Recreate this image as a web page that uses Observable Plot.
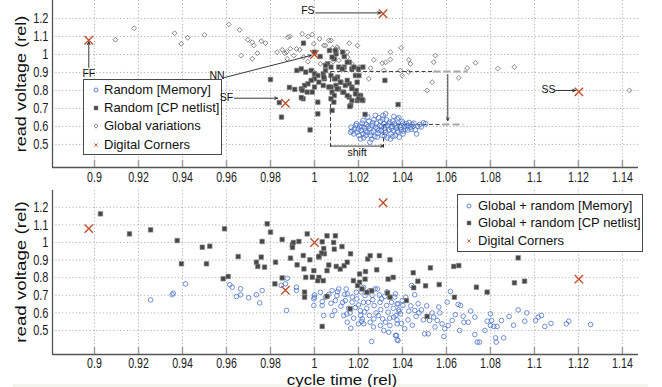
<!DOCTYPE html>
<html><head><meta charset="utf-8">
<script src="https://cdn.jsdelivr.net/npm/d3@7"></script>
<script src="https://cdn.jsdelivr.net/npm/@observablehq/plot@0.6"></script>
<style>
html,body{margin:0;padding:0;background:#fff;}
#wrap{position:relative;width:662px;height:387px;overflow:hidden;font-family:"Liberation Sans",Arial,sans-serif;color:#111;}
#wrap svg{position:absolute;left:0;}
.legend{position:absolute;background:#fff;border:1px solid #4a4a4a;box-sizing:border-box;font-size:13px;z-index:5;}
.legend .mk{position:absolute;width:10px;height:10px;}
.legend .tx{position:absolute;height:18px;line-height:18px;white-space:nowrap;}
.title{position:absolute;white-space:nowrap;font-size:14.5px;line-height:14px;transform-origin:50% 50%;z-index:6;}
#band{position:absolute;left:13px;top:384px;width:635px;height:3px;background:#f3f4ec;}
</style>
</head><body>
<div id="wrap"><div id="band"></div></div>
<script>
// ---------- data ----------
const xTicks = [0.9,0.92,0.94,0.96,0.98,1,1.02,1.04,1.06,1.08,1.1,1.12,1.14];
const yTicks = [0.5,0.6,0.7,0.8,0.9,1,1.1,1.2];

const corners = [ // Digital corners: FF, FS, NN, SF, SS
  [0.8974,1.079],[1.0312,1.226],[1.0,1.0],[0.9868,0.729],[1.1202,0.792]
];

const topMemory = [[1.0167,0.596],[1.0171,0.574],[1.0179,0.559],[1.0182,0.587],[1.0191,0.615],[1.0194,0.568],[1.0202,0.550],[1.0206,0.600],[1.0212,0.578],[1.0217,0.618],[1.0221,0.559],[1.0224,0.537],[1.0229,0.592],[1.0236,0.611],[1.0239,0.568],[1.0247,0.629],[1.0252,0.587],[1.0255,0.550],[1.0252,0.513],[1.0262,0.605],[1.0267,0.574],[1.0270,0.637],[1.0274,0.544],[1.0282,0.618],[1.0285,0.587],[1.0289,0.563],[1.0292,0.648],[1.0297,0.605],[1.0300,0.629],[1.0303,0.578],[1.0308,0.550],[1.0312,0.661],[1.0315,0.615],[1.0318,0.592],[1.0323,0.568],[1.0327,0.637],[1.0330,0.537],[1.0333,0.605],[1.0338,0.581],[1.0342,0.624],[1.0348,0.559],[1.0353,0.600],[1.0358,0.578],[1.0364,0.615],[1.0368,0.550],[1.0373,0.592],[1.0376,0.642],[1.0380,0.568],[1.0385,0.541],[1.0388,0.605],[1.0394,0.581],[1.0398,0.629],[1.0403,0.559],[1.0409,0.600],[1.0418,0.615],[1.0424,0.581],[1.0430,0.622],[1.0436,0.596],[1.0444,0.611],[1.0452,0.618],[1.0459,0.581],[1.0464,0.559],[1.0470,0.600],[1.0479,0.611],[1.0505,0.615],[1.0164,0.568],[1.0242,0.652],[1.0277,0.661],[1.0323,0.670],[1.0361,0.655],[1.0383,0.648],[1.0221,0.633],[1.0285,0.541],[1.0345,0.531],[1.0209,0.531],[1.0188,0.605],[1.0199,0.585],[1.0215,0.598],[1.0232,0.575],[1.0244,0.600],[1.0258,0.566],[1.0265,0.620],[1.0278,0.596],[1.0292,0.578],[1.0306,0.600],[1.0310,0.640],[1.0321,0.580],[1.0336,0.615],[1.0350,0.590],[1.0356,0.630],[1.0371,0.605],[1.0377,0.575],[1.0392,0.595],[1.0401,0.618],[1.0412,0.585],[1.0421,0.605],[1.0440,0.585],[1.0448,0.600],[1.0485,0.598],[1.0495,0.620],[1.0260,0.530],[1.0318,0.548],[1.0356,0.545],[1.0404,0.575],[1.0233,0.551]];

const topNetlist = [[0.995,1.063],[1.0,1.013],[1.0026,0.989],[1.0068,1.022],[1.0098,1.004],[1.0128,1.013],[1.0135,0.989],[1.0158,0.957],[1.009,0.976],[1.006,0.948],[1.0075,0.93],[1.011,0.93],[1.0135,0.93],[1.017,0.92],[1.020,0.92],[1.022,0.93],[0.992,0.911],[0.994,0.92],[0.996,0.902],[0.9985,0.911],[1.0,0.893],[1.0015,0.883],[1.004,0.893],[1.005,0.911],[1.0,0.865],[0.9985,0.856],[0.997,0.837],[0.9955,0.828],[0.994,0.809],[0.9967,0.791],[0.999,0.791],[1.0,0.819],[1.002,0.846],[1.004,0.828],[1.0045,0.865],[1.0075,0.883],[1.009,0.865],[1.0105,0.874],[1.012,0.846],[1.0098,0.828],[1.0075,0.819],[1.008,0.791],[1.009,0.772],[1.011,0.809],[1.0128,0.791],[1.014,0.828],[1.0158,0.837],[1.017,0.819],[1.019,0.80],[1.0158,0.763],[1.017,0.744],[1.021,0.772],[1.022,0.744],[1.0195,0.744],[0.9948,0.754],[1.0015,0.735],[1.0075,0.754],[1.0165,0.717],[0.985,0.652],[1.0015,0.67],[0.998,0.581],[0.980,0.861],[0.9886,0.817],[0.991,0.806],[0.984,0.733],[0.994,0.761],[0.9945,0.80],[1.0095,1.022],[1.0149,0.957],[1.013,0.922],[1.0186,0.883],[1.032,0.856],[1.017,0.81],[1.016,0.711],[1.038,0.722],[1.023,0.667],[1.008,0.689],[1.02,0.772],[1.008,0.985],[1.005,0.939],[1.0126,0.92],[1.0179,0.93],[1.0202,0.883],[1.0042,0.874],[1.0095,0.865],[1.0118,0.846],[1.0149,0.856],[1.0194,0.846],[1.0065,0.819],[1.0103,0.809],[1.0133,0.79],[1.0149,0.772],[1.0186,0.781],[1.0202,0.754],[1.0217,0.748],[1.0088,0.735]];

const topGlobal = [[0.9095,1.082],[0.918,1.146],[0.9364,1.118],[0.9394,1.059],[0.9424,1.093],[0.95,1.109],[0.961,1.167],[0.966,1.137],[0.9667,0.994],[0.9697,1.082],[0.9717,1.068],[0.9724,1.05],[0.974,1.007],[0.9717,0.976],[0.9758,1.074],[0.9777,1.063],[0.983,1.013],[0.9853,1.026],[0.9873,1.013],[0.9879,1.096],[0.989,1.032],[0.9876,0.976],[0.9906,0.994],[0.9933,1.026],[0.9944,1.115],[0.999,1.111],[0.9997,1.059],[1.005,1.05],[1.0065,1.078],[1.0027,0.948],[0.9888,1.1],[0.997,1.1],[1.0023,1.087],[1.0042,1.05],[1.0075,1.078],[1.0083,1.037],[1.0105,1.031],[1.0158,1.063],[1.0195,1.05],[0.9865,1.007],[0.9918,1.031],[1.015,0.985],[1.017,0.948],[1.0103,1.041],[1.0149,1.013],[1.011,0.967],[1.027,0.97],[1.0308,0.952],[1.0323,0.956],[1.0345,1.013],[1.0345,0.972],[1.0394,1.037],[1.0429,0.97],[1.0436,0.948],[1.0255,0.924],[1.0315,0.911],[1.039,0.911],[1.0399,0.883],[1.0427,0.902],[1.0247,0.865],[1.055,0.994],[1.0542,0.957],[1.0535,0.846],[1.0512,0.8],[1.0656,0.87],[1.0694,0.925],[1.0732,0.954],[1.0833,0.922],[1.0908,0.93],[1.1432,0.8],[1.0202,0.93],[0.9995,0.905],[1.004,0.88],[0.997,0.96],[1.0085,0.96],[0.995,0.985]];

const bottomNetlist = [[0.9027,1.163],[0.9159,1.049],[0.9255,1.072],[0.9376,1.011],[0.949,0.973],[0.9524,0.979],[0.9395,0.879],[0.9509,0.879],[0.9591,1.078],[0.9585,0.794],[0.9608,0.807],[0.9653,0.92],[0.9736,0.888],[0.9742,0.864],[0.9773,0.86],[0.9758,0.917],[0.9762,1.006],[0.9785,1.106],[0.98,1.059],[0.9853,1.017],[0.9899,0.987],[0.9929,1.006],[0.9891,0.911],[0.9921,0.873],[0.9823,0.888],[0.9853,0.799],[0.982,0.765],[0.9904,1.0],[0.99,0.972],[0.9949,0.926],[0.9952,0.85],[0.9955,0.718],[0.9955,0.689],[0.9967,1.049],[0.999,0.803],[1.002,0.917],[1.0035,0.523],[1.0045,0.936],[1.0035,1.004],[1.0057,1.038],[1.0095,1.038],[1.0087,1.0],[1.0042,0.966],[1.0032,0.94],[1.002,0.921],[0.9979,0.902],[0.9997,0.84],[1.0057,0.84],[1.0065,0.872],[1.0099,0.864],[1.0117,0.849],[1.0135,0.868],[1.009,0.962],[1.0125,0.977],[0.996,0.802],[1.002,0.802],[1.004,0.783],[1.0015,0.783],[1.0177,0.783],[1.0205,0.774],[1.0205,0.821],[1.023,0.792],[1.0196,0.755],[1.0216,0.736],[1.0238,0.717],[1.026,0.726],[1.0242,0.906],[1.0253,0.925],[1.0295,0.925],[1.0343,0.902],[1.0283,0.845],[1.0335,0.792],[1.0358,0.802],[1.0332,0.713],[1.0343,0.689],[1.0057,0.694],[1.0162,0.623],[1.0149,0.888],[1.0164,0.936],[1.0232,0.835],[1.0449,0.828],[1.0451,0.743],[1.047,0.78],[1.0527,0.856],[1.0567,0.761],[1.0633,0.864],[1.0656,0.869],[1.0636,0.689],[1.0736,0.746],[1.0785,0.718],[1.0909,0.771],[1.0955,0.78],[1.0926,0.913],[1.0418,0.67],[1.0512,0.58],[1.0505,0.754]];

const bottomMemory = [[0.9255,0.674],[0.9353,0.703],[0.9358,0.712],[0.9414,0.765],[0.9615,0.76],[0.9626,0.746],[0.9645,0.693],[0.9664,0.737],[0.9664,0.703],[0.9701,0.686],[0.9736,0.703],[0.9751,0.657],[0.9762,0.727],[0.9849,0.756],[0.9876,0.797],[0.9868,0.765],[0.9873,0.614],[0.9918,0.746],[0.9918,0.727],[0.9997,0.68],[1.0,0.702],[1.0,0.689],[1.0027,0.717],[1.0035,0.664],[1.0035,0.642],[0.9997,0.642],[1.0042,0.585],[1.005,0.689],[1.011,0.736],[1.0102,0.698],[1.012,0.638],[1.0144,0.736],[1.015,0.708],[1.014,0.67],[1.0155,0.626],[1.0162,0.6],[1.0165,0.513],[1.019,0.717],[1.0193,0.679],[1.02,0.645],[1.0208,0.613],[1.021,0.585],[1.0215,0.551],[1.02,0.538],[1.0223,0.66],[1.023,0.698],[1.0238,0.626],[1.025,0.585],[1.0253,0.547],[1.026,0.438],[1.0265,0.675],[1.0271,0.642],[1.028,0.6],[1.0286,0.736],[1.0295,0.702],[1.0298,0.66],[1.0301,0.619],[1.031,0.566],[1.032,0.694],[1.0328,0.642],[1.0335,0.604],[1.0343,0.528],[1.035,0.66],[1.0358,0.626],[1.037,0.585],[1.0376,0.538],[1.038,0.651],[1.0385,0.608],[1.0275,0.736],[1.025,0.726],[1.0223,0.745],[1.0147,0.594],[1.008,0.727],[1.0095,0.67],[1.008,0.585],[1.0133,0.585],[1.0149,0.547],[1.0171,0.661],[1.0217,0.566],[1.0224,0.538],[1.027,0.566],[1.03,0.528],[1.0323,0.547],[1.0338,0.49],[1.0368,0.472],[1.0376,0.447],[1.036,0.576],[1.0441,0.756],[1.0456,0.703],[1.0368,0.708],[1.0376,0.652],[1.0399,0.67],[1.0402,0.642],[1.0383,0.617],[1.0391,0.595],[1.0429,0.61],[1.0456,0.614],[1.0462,0.58],[1.0486,0.617],[1.0471,0.652],[1.041,0.51],[1.0373,0.472],[1.038,0.443],[1.0501,0.481],[1.0517,0.481],[1.0523,0.557],[1.0542,0.576],[1.0558,0.557],[1.0565,0.633],[1.058,0.538],[1.0592,0.51],[1.0588,0.466],[1.0608,0.528],[1.0603,0.661],[1.0618,0.722],[1.0626,0.557],[1.0653,0.648],[1.0664,0.642],[1.0676,0.581],[1.0679,0.547],[1.0699,0.547],[1.0729,0.576],[1.0729,0.477],[1.074,0.434],[1.075,0.434],[1.0785,0.553],[1.08,0.595],[1.0805,0.557],[1.08,0.528],[1.0815,0.523],[1.083,0.523],[1.0823,0.458],[1.0826,0.434],[1.085,0.557],[1.086,0.458],[1.0926,0.617],[1.0956,0.553],[1.1005,0.557],[1.1017,0.576],[1.1032,0.585],[1.1047,0.523],[1.1145,0.538],[1.1156,0.553],[1.1255,0.534],[1.0065,0.705],[1.0075,0.655],[1.0092,0.612],[1.0105,0.72],[1.0128,0.66],[1.0138,0.705],[1.0172,0.69],[1.0178,0.57],[1.0185,0.63],[1.0212,0.72],[1.0228,0.605],[1.0245,0.66],[1.0262,0.7],[1.0268,0.52],[1.029,0.585],[1.0305,0.68],[1.0315,0.5],[1.033,0.72],[1.0342,0.57],[1.0365,0.69],[1.0375,0.56],[1.0395,0.54],[1.0415,0.69],[1.0425,0.56],[1.0438,0.64],[1.0445,0.53],[1.0475,0.6],[1.0495,0.56],[1.051,0.64],[1.0535,0.6],[1.0548,0.52],[1.057,0.6],[1.064,0.59],[1.066,0.5],[1.071,0.61],[1.0775,0.5],[1.0885,0.58],[1.0905,0.53],[1.0965,0.6],[1.1075,0.54]];

// annotations (top panel), in data units
const annoLabels = [
  {label:"FF", x:0.8974, y:0.894},
  {label:"FS", x:0.9970, y:1.244},
  {label:"NN", x:0.9557, y:0.883},
  {label:"SF", x:0.9600, y:0.763},
  {label:"SS", x:1.1064, y:0.806},
  {label:"shift", x:1.0194, y:0.452}
];
const annoArrows = [
  {x1:0.8974,y1:0.928,x2:0.8974,y2:1.070},
  {x1:1.0005,y1:1.231,x2:1.0300,y2:1.231},
  {x1:0.9591,y1:0.872,x2:0.9985,y2:0.995},
  {x1:0.9636,y1:0.757,x2:0.9832,y2:0.757},
  {x1:1.1095,y1:0.800,x2:1.1186,y2:0.800},
  {x1:1.0606,y1:0.889,x2:1.0606,y2:0.633},
  {x1:1.0073,y1:0.491,x2:1.0314,y2:0.491}
];
const dashBlack = [
  {x1:1.0073,y1:0.9056,x2:1.0541,y2:0.9056},
  {x1:1.0314,y1:0.611,x2:1.0582,y2:0.611},
  {x1:1.0073,y1:0.9056,x2:1.0073,y2:0.483},
  {x1:1.0314,y1:0.611,x2:1.0314,y2:0.483}
];
const dashGray = [
  {x1:1.0541,y1:0.9056,x2:1.0695,y2:0.9056},
  {x1:1.0582,y1:0.611,x2:1.0677,y2:0.611}
];

const topLegendLabels = ["Random [Memory]","Random [CP netlist]","Global variations","Digital Corners"];
const bottomLegendLabels = ["Global + random [Memory]","Global + random [CP netlist]","Digital Corners"];
const yTitle = "read voltage (rel)";
const xTitle = "cycle time (rel)";

// ---------- styles ----------
const BLUE = "#4d74c9", SQ = "#474747", SQS = "#8a8a8a", DIA = "#6f6f6f", RED = "#c2502e";
const TICKFILL = "#1b1b1b";
const xDomain = [0.8809, 1.1473];
const FONT = '"Liberation Sans", Arial, sans-serif';

function frameMarks(yDomain, xdy) {
  const y0 = yDomain[0];
  return [
    Plot.ruleX(xTicks, {x: d => d, stroke: "#b4b4b4", strokeDasharray: "1.2,2.2", strokeWidth: 1}),
    Plot.ruleY(yTicks, {y: d => d, stroke: "#b4b4b4", strokeDasharray: "1.2,2.2", strokeWidth: 1}),
    Plot.ruleX(xTicks, {x: d => d, y1: y0, y2: y0 + 0.04, stroke: "#a0a0a0", strokeWidth: 1.5}),
    Plot.ruleX([xDomain[0]], {stroke: "#555", strokeWidth: 1.3}),
    Plot.ruleY([y0], {stroke: "#555", strokeWidth: 1.3}),
    Plot.text(xTicks, {x: d => d, y: y0, dy: xdy, text: d => String(d), fontSize: 14, fill: TICKFILL}),
    Plot.text(yTicks, {x: xDomain[0], y: d => d, dx: -4, text: d => String(d), textAnchor: "end", fontSize: 14.5, fill: TICKFILL})
  ];
}
const cornerMark = Plot.dot(corners, {x: d => d[0], y: d => d[1], symbol: "times", r: 3.9, stroke: RED, strokeWidth: 1.4});

const topY = [0.372, 1.3];
const topOpts = {
  width: 662, height: 190,
  marginLeft: 52, marginRight: 24, marginTop: 0, marginBottom: 23,
  x: {domain: xDomain, axis: null},
  y: {domain: topY, axis: null},
  style: {background: "transparent", fontFamily: FONT, overflow: "visible"}
};
const topSvg = Plot.plot({
  ...topOpts,
  marks: [
    ...frameMarks(topY, 10),
    Plot.link(dashBlack, {x1: "x1", y1: "y1", x2: "x2", y2: "y2", stroke: "#222", strokeWidth: 0.9, strokeDasharray: "4,2.5"}),
    Plot.link(dashGray, {x1: "x1", y1: "y1", x2: "x2", y2: "y2", stroke: "#a8a8a8", strokeWidth: 2, strokeDasharray: "7,3"}),
    Plot.dot(topGlobal, {x: d => d[0], y: d => d[1], symbol: "diamond2", r: 2.2, stroke: DIA, strokeWidth: 0.85}),
    Plot.dot(topNetlist, {x: d => d[0], y: d => d[1], symbol: "square", r: 2.6, fill: SQ, stroke: SQS, strokeWidth: 0.6}),
    Plot.dot(topMemory, {x: d => d[0], y: d => d[1], r: 2.4, stroke: BLUE, strokeWidth: 0.8, fill: "none"}),
    Plot.arrow(annoArrows, {x1: "x1", y1: "y1", x2: "x2", y2: "y2", stroke: "#222", strokeWidth: 0.9, headLength: 5, headAngle: 50}),
    cornerMark
  ]
});
topSvg.style.top = "0px";

// annotation labels sit above the legend box
const annoSvg = Plot.plot({
  ...topOpts,
  marks: [Plot.text(annoLabels, {x: "x", y: "y", text: "label", fontSize: 10.5, fill: "#111"})]
});
annoSvg.style.top = "0px";
annoSvg.style.zIndex = "7";

const botY = [0.3636, 1.2955];
const bottomSvg = Plot.plot({
  width: 662, height: 197,
  marginLeft: 52, marginRight: 24, marginTop: 0, marginBottom: 33,
  x: {domain: xDomain, axis: null},
  y: {domain: botY, axis: null},
  style: {background: "transparent", fontFamily: FONT, overflow: "visible"},
  marks: [
    ...frameMarks(botY, 9),
    Plot.dot(bottomMemory, {x: d => d[0], y: d => d[1], r: 2.3, stroke: BLUE, strokeWidth: 0.8, fill: "none"}),
    Plot.dot(bottomNetlist, {x: d => d[0], y: d => d[1], symbol: "square", r: 2.6, fill: SQ, stroke: SQS, strokeWidth: 0.6}),
    cornerMark
  ]
});
bottomSvg.style.top = "190px";

const wrap = document.getElementById("wrap");
wrap.appendChild(topSvg);
wrap.appendChild(bottomSvg);
wrap.appendChild(annoSvg);

// condense tick labels (original font is narrow)
for (const svg of [topSvg, bottomSvg]) {
  svg.querySelectorAll(`g[fill="${TICKFILL}"] text`).forEach(t => {
    const L = t.getComputedTextLength();
    t.setAttribute("textLength", (L * 0.76).toFixed(2));
    t.setAttribute("lengthAdjust", "spacingAndGlyphs");
  });
}

// ---------- legends ----------
const markerSvg = {
  circle: `<svg class="mk" viewBox="0 0 10 10"><circle cx="5" cy="5" r="2" fill="none" stroke="${BLUE}" stroke-width="0.9"/></svg>`,
  square: `<svg class="mk" viewBox="0 0 10 10"><rect x="3" y="3" width="4" height="4" fill="${SQ}" stroke="${SQS}" stroke-width="0.5"/></svg>`,
  diamond: `<svg class="mk" viewBox="0 0 10 10"><path d="M5 2.8L7 5L5 7.2L3 5Z" fill="none" stroke="${DIA}" stroke-width="0.8"/></svg>`,
  cross: `<svg class="mk" viewBox="0 0 10 10"><path d="M3.4 3.4L6.6 6.6M6.6 3.4L3.4 6.6" stroke="${RED}" stroke-width="0.9"/></svg>`
};
function legend(box, labels, markers, rowCenters, mx, tx) {
  const div = document.createElement("div");
  div.className = "legend";
  Object.assign(div.style, {left: box[0] + "px", top: box[1] + "px", width: box[2] + "px", height: box[3] + "px"});
  labels.forEach((lab, i) => {
    const m = document.createElement("div");
    m.innerHTML = markerSvg[markers[i]];
    const s = m.firstChild;
    s.style.left = (mx - 5) + "px"; s.style.top = (rowCenters[i] - 5) + "px";
    div.appendChild(s);
    const t = document.createElement("div");
    t.className = "tx"; t.textContent = lab;
    t.style.left = tx + "px"; t.style.top = (rowCenters[i] - 9) + "px";
    div.appendChild(t);
  });
  wrap.appendChild(div);
}
legend([83, 79, 139, 76], topLegendLabels, ["circle", "square", "diamond", "cross"], [9.5, 27.5, 46, 64.5], 11.5, 20);
legend([457, 194, 186, 58], bottomLegendLabels, ["circle", "square", "cross"], [10.5, 28.2, 46], 10.5, 20);

// ---------- axis titles ----------
function title(text, cx, cy, len, rotate) {
  const d = document.createElement("div");
  d.className = "title"; d.textContent = text;
  wrap.appendChild(d);
  const w = d.offsetWidth;
  d.style.left = cx + "px"; d.style.top = cy + "px";
  d.style.transform = `translate(-50%,-50%) ${rotate ? "rotate(-90deg) " : ""}scaleX(${(len / w).toFixed(3)})`;
}
title(yTitle, 21, 83.5, 137, true);
title(yTitle, 21, 271.5, 142, true);
title(xTitle, 342, 379.5, 110, false);
</script>
</body></html>
